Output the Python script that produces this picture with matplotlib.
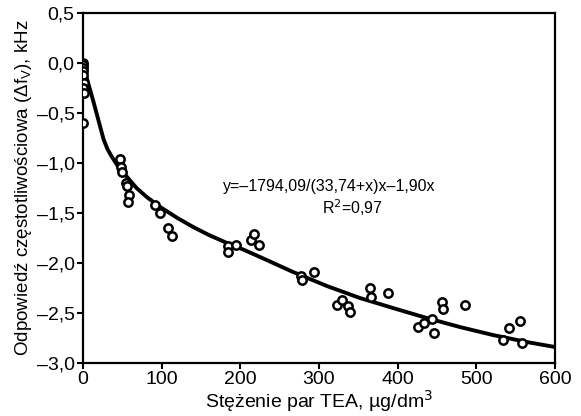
import matplotlib
matplotlib.use("Agg")
import matplotlib.pyplot as plt
from matplotlib.ticker import FuncFormatter

plt.rcParams['font.family'] = ['Liberation Sans', 'DejaVu Sans']

# measured points: TEA vapour concentration (ug/dm3) vs frequency response (kHz)
conc = [0, 0, 0, 0, 0, 1, 0, 1, 0,
        47, 48, 50, 54, 56, 58, 57,
        92, 98, 108, 113,
        184, 184, 195, 214, 218, 224,
        277, 278, 294,
        323, 329, 337, 339,
        365, 366, 388,
        426, 433, 444, 446, 456, 458, 486,
        534, 542, 556, 558]
resp = [0.0, -0.02, -0.05, -0.08, -0.12, -0.20, -0.25, -0.30, -0.60,
        -0.96, -1.04, -1.09, -1.20, -1.23, -1.32, -1.39,
        -1.42, -1.50, -1.65, -1.73,
        -1.83, -1.89, -1.82, -1.77, -1.71, -1.82,
        -2.13, -2.17, -2.09,
        -2.42, -2.37, -2.43, -2.49,
        -2.25, -2.34, -2.30,
        -2.64, -2.60, -2.56, -2.70, -2.39, -2.46, -2.42,
        -2.77, -2.65, -2.58, -2.80]

# fitted curve as drawn on the chart
fit_x = [0, 13, 26, 31, 36, 45, 56, 68, 81, 98, 120, 140, 160, 183, 205, 225,
         267, 310, 352, 394, 437, 479, 521, 564, 600]
fit_y = [-0.02, -0.38, -0.76, -0.86, -0.93, -1.04, -1.14, -1.25, -1.34, -1.44,
         -1.55, -1.64, -1.72, -1.80, -1.87, -1.94,
         -2.09, -2.23, -2.35, -2.45, -2.55, -2.64, -2.72, -2.79, -2.84]

eq_text = "y=\u20131794,09/(33,74+x)x\u20131,90x"
r2_text = "R$^2$=0,97"

fig = plt.figure(figsize=(5.81, 4.16), dpi=100)
ax = fig.add_axes([0.1429, 0.1274, 0.8123, 0.8414])

ax.plot(fit_x, fit_y, color='black', lw=2.8, solid_joinstyle='round', zorder=2)
ax.plot(conc, resp, 'o', ms=6, mfc='white', mec='black', mew=1.8, zorder=3)

ax.set_xlim(0, 600)
ax.set_ylim(-3.0, 0.5)
ax.set_xticks([0, 100, 200, 300, 400, 500, 600])
ax.set_yticks([-3.0, -2.5, -2.0, -1.5, -1.0, -0.5, 0.0, 0.5])

fmt = FuncFormatter(lambda v, p: ("%.1f" % v).replace('.', ',').replace('-', '\u2013'))
ax.yaxis.set_major_formatter(fmt)

for s in ax.spines.values():
    s.set_linewidth(1.6)
ax.tick_params(direction='out', length=4, width=1.5, labelsize=14, pad=2)

ax.set_xlabel("St\u0119\u017cenie par TEA, \u00b5g/dm$^3$", fontsize=14, labelpad=0)
ax.set_ylabel("Odpowied\u017a cz\u0119stotliwo\u015bciowa (\u0394f$_\\mathregular{V}$), kHz",
              fontsize=13.5, labelpad=2)

ax.text(313, -1.24, eq_text, fontsize=11.5, ha='center', va='center')
ax.text(342, -1.45, r2_text, fontsize=11.5, ha='center', va='center')

fig.savefig("out.png", dpi=100)
